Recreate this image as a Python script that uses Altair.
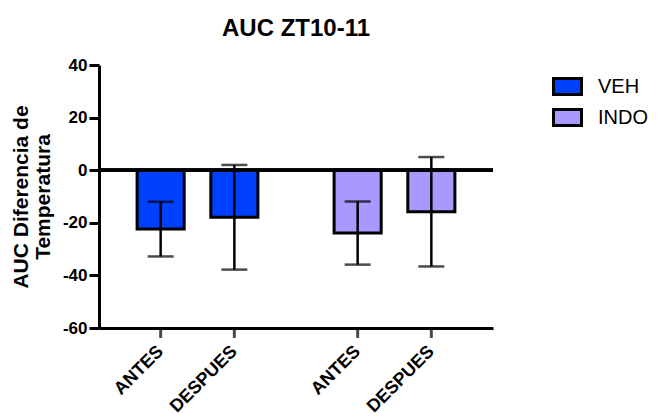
import altair as alt
import pandas as pd

grupos = ["VEH", "VEH", "INDO", "INDO"]
momentos = ["ANTES", "DESPUES", "ANTES", "DESPUES"]
medias = [-22.4, -17.9, -23.9, -15.8]
errores = [10.4, 19.9, 12.0, 20.8]
y_ticks = [-60, -40, -20, 0, 20, 40]

df = pd.DataFrame({"grupo": grupos, "momento": momentos, "media": medias, "error": errores})

FONT = "Liberation Sans"
group_order = ["VEH", "INDO"]
time_order = ["ANTES", "DESPUES"]

x_enc = alt.X("grupo:N", sort=group_order,
              scale=alt.Scale(paddingInner=0, paddingOuter=0),
              axis=alt.Axis(labels=False, ticks=False, title=None, domainWidth=3,
                            domainColor="black"))
xo_enc = alt.XOffset("momento:N", sort=time_order,
                     scale=alt.Scale(paddingInner=0.361, paddingOuter=0.517))

base = alt.Chart(df).transform_calculate(
    lo="datum.media - datum.error", hi="datum.media + datum.error"
)

bars = base.mark_bar(stroke="black", strokeWidth=3).encode(
    x=x_enc,
    xOffset=xo_enc,
    y=alt.Y("media:Q",
            scale=alt.Scale(domain=[-60, 40], nice=False, zero=False),
            axis=alt.Axis(values=y_ticks, title=["AUC Diferencia de", "Temperatura"],
                          labelExpr="datum.value < 0 ? '-' + abs(datum.value) : '' + datum.value",
                          grid=False, domainWidth=3, domainColor="black",
                          tickWidth=3, tickColor="black", tickSize=10,
                          labelFont=FONT, labelFontSize=17, labelFontWeight="bold",
                          labelColor="black", labelPadding=2,
                          titleFont=FONT, titleFontSize=21, titleFontWeight="bold",
                          titleColor="black", titlePadding=9, titleLineHeight=22)),
    color=alt.Color("grupo:N", sort=group_order,
                    scale=alt.Scale(domain=group_order, range=["#0040FF", "#A899FF"]),
                    legend=alt.Legend(title=None, orient="none", legendX=453, legendY=6,
                                      symbolType="M-1,-0.571H1V0.571H-1Z",
                                      symbolSize=784, symbolStrokeColor="black",
                                      symbolStrokeWidth=3, symbolOpacity=1,
                                      labelFont=FONT, labelFontSize=20, labelColor="black",
                                      labelOffset=15, rowPadding=1)),
)

zero = base.mark_rule(color="black", strokeWidth=3.5).encode(y=alt.datum(0))

err = base.mark_rule(color="black", strokeWidth=2.5).encode(
    x=x_enc, xOffset=xo_enc, y="lo:Q", y2="hi:Q"
)
cap_lo = base.mark_tick(color="black", thickness=2.5, size=26, orient="horizontal").encode(
    x=x_enc, xOffset=xo_enc, y="lo:Q"
)
cap_hi = base.mark_tick(color="black", thickness=2.5, size=26, orient="horizontal").encode(
    x=x_enc, xOffset=xo_enc, y="hi:Q"
)

xticks = base.mark_tick(color="black", thickness=3, size=10, orient="vertical",
                        yOffset=5).encode(
    x=x_enc, xOffset=xo_enc, y=alt.datum(-60)
)
xlabels = base.mark_text(angle=315, align="right", baseline="middle", font=FONT,
                         fontSize=18, fontWeight="bold", color="black",
                         yOffset=21).encode(
    x=x_enc, xOffset=xo_enc, y=alt.datum(-60), text="momento:N"
)

chart = alt.layer(bars, zero, err, cap_lo, cap_hi, xticks, xlabels).properties(
    width=394, height=263,
    padding={"left": 99, "top": 65, "right": 174, "bottom": 91},
    autosize=alt.AutoSizeParams(type="none"),
    title=alt.Title("AUC ZT10-11", font=FONT, fontSize=24, fontWeight="bold",
                    color="black", anchor="middle", offset=15),
).configure_view(stroke=None)

chart.save("out.html", embed_options={"renderer": "svg", "actions": False})
